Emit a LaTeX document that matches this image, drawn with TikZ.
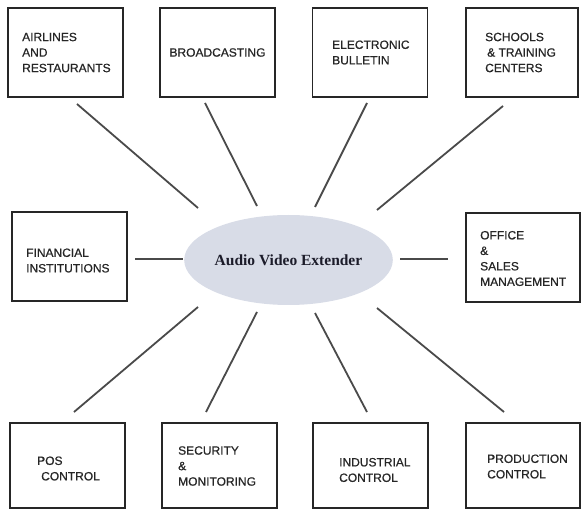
\documentclass[tikz,border=0pt]{standalone}
\usepackage{fontspec}
\setmainfont{Liberation Sans}
\newfontfamily\boxfont[FakeBold=0.7]{Liberation Sans}
\newfontfamily\hubfont{Liberation Serif}
\usetikzlibrary{shapes.geometric}
\definecolor{boxline}{HTML}{262626}
\definecolor{conline}{HTML}{4A4A4A}
\definecolor{hubfill}{HTML}{D8DCE7}
\definecolor{hubtext}{HTML}{1C1C2A}
\tikzset{
  box/.style={draw=boxline, line width=1.7pt, inner sep=0pt,
              minimum width=115pt, minimum height=89pt},
  lowbox/.style={box, minimum height=85pt},
  lbl/.style={anchor=west, align=left, inner sep=0pt, text=black!85,
              font=\boxfont\fontsize{12}{15.5}\selectfont},
  con/.style={draw=conline, line width=1.8pt},
}
\begin{document}
\begin{tikzpicture}[x=1pt,y=-1pt]
\useasboundingbox (0,0) rectangle (583,510);
% boxes
\node[box] (air) at (65.5,52.5) {};
\node[box] (bro) at (217.5,52.5) {};
\node[box] (ele) at (370,52.5) {};
\node[box, minimum width=112pt] (sch) at (522,52.5) {};
\node[box] (fin) at (69.5,256.5) {};
\node[box, minimum width=114pt] (off) at (523,257.5) {};
\node[lowbox] (pos) at (67.5,465.5) {};
\node[lowbox] (sec) at (219.5,465.5) {};
\node[lowbox] (ind) at (370.5,465.5) {};
\node[lowbox, minimum width=114pt] (pro) at (523,465.5) {};
% hub
\node[ellipse, fill=hubfill, minimum width=197pt, minimum height=90pt, inner sep=0pt,
      text=hubtext, font=\hubfont\bfseries\fontsize{15.5}{18}\selectfont] (hub) at (288.5,260) {Audio Video Extender};
% labels
\node[lbl] (tair) at (22,52.5) {AIRLINES\\AND\\RESTAURANTS};
\node[lbl, anchor=center] (tbro) at (217.5,52.5) {BROADCASTING};
\node[lbl] (tele) at (332,52.5) {ELECTRONIC\\BULLETIN};
\node[lbl] (tsch) at (485,52.5) {SCHOOLS\\\hspace{2pt}\& TRAINING\\CENTERS};
\node[lbl] (tfin) at (26,260.5) {FINANCIAL\\INSTITUTIONS};
\node[lbl] (toff) at (480,258.5) {OFFICE\\\&\\SALES\\MANAGEMENT};
\node[lbl] (tpos) at (37,468.5) {POS\\\hspace{4pt}CONTROL};
\node[lbl] (tsec) at (178,466) {SECURITY\\\&\\MONITORING};
\node[lbl] (tind) at (339,470) {INDUSTRIAL\\CONTROL};
\node[lbl] (tpro) at (487,466.5) {PRODUCTION\\CONTROL};
% connector end points
\coordinate (c1a) at (77,104);  \coordinate (c1b) at (198,208);
\coordinate (c2a) at (205,103); \coordinate (c2b) at (257,206);
\coordinate (c3a) at (367,103); \coordinate (c3b) at (315,207);
\coordinate (c4a) at (503,106); \coordinate (c4b) at (377,210);
\coordinate (c5a) at (135,259); \coordinate (c5b) at (183,259);
\coordinate (c6a) at (400,259); \coordinate (c6b) at (448,259);
\coordinate (c7a) at (198,307); \coordinate (c7b) at (74,412);
\coordinate (c8a) at (257,312); \coordinate (c8b) at (206,412);
\coordinate (c9a) at (315,313); \coordinate (c9b) at (367,412);
\coordinate (c10a) at (377,308); \coordinate (c10b) at (504,412);
% connectors
\draw[con] (c1a) -- (c1b);
\draw[con] (c2a) -- (c2b);
\draw[con] (c3a) -- (c3b);
\draw[con] (c4a) -- (c4b);
\draw[con] (c5a) -- (c5b);
\draw[con] (c6a) -- (c6b);
\draw[con] (c7a) -- (c7b);
\draw[con] (c8a) -- (c8b);
\draw[con] (c9a) -- (c9b);
\draw[con] (c10a) -- (c10b);
\end{tikzpicture}
\end{document}
